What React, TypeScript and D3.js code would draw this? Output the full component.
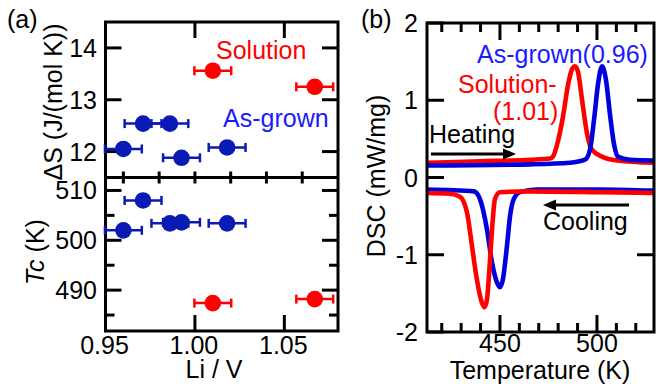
import React from 'react';
import * as d3 from 'd3';

// ---------- Panel (a) data ----------
const liAsGrown = [0.96, 0.971, 0.986, 0.9925, 1.018];
const dsAsGrown = [12.05, 12.54, 12.54, 11.88, 12.08];
const tcAsGrown = [502.0, 508.0, 503.4, 503.6, 503.4];
const liSolution = [1.01, 1.067];
const dsSolution = [13.56, 13.25];
const tcSolution = [487.4, 488.2];
const liError = 0.0103;

const liTicks = [0.95, 1.0, 1.05];
const liTickLabels = ['0.95', '1.00', '1.05'];
const dsTicks = [12, 13, 14];
const tcTicks = [490, 500, 510];
const tcMinor = [485, 495, 505];
const dividerTicks = [0.96, 0.98, 1.0, 1.02, 1.04, 1.06];

// ---------- Panel (b) data ----------
const heatRedT = [412.4, 439.7, 465.5, 475.8, 477.3, 479.9, 482.5, 485.1, 487.1, 488.7, 490.2, 492.3, 494.8, 497.4, 502.6, 510.3, 529.4];
const heatRedV = [0.19, 0.21, 0.23, 0.245, 0.27, 0.47, 0.79, 1.2, 1.4, 1.44, 1.37, 1.01, 0.58, 0.36, 0.27, 0.22, 0.19];
const heatBlueT = [412.4, 465.5, 486.1, 493.8, 496.4, 498.5, 500.5, 502.6, 504.6, 506.7, 508.8, 510.8, 517, 529.4];
const heatBlueV = [0.155, 0.17, 0.19, 0.23, 0.36, 0.75, 1.2, 1.44, 1.27, 0.82, 0.43, 0.27, 0.23, 0.22];
const coolRedT = [412.4, 424.2, 429.4, 433.0, 435.6, 438.1, 440.7, 442.0, 443.3, 444.8, 446.2, 447.4, 450, 465.5, 501.5, 529.4];
const coolRedV = [-0.2, -0.21, -0.25, -0.45, -0.89, -1.32, -1.62, -1.68, -1.58, -1.1, -0.58, -0.28, -0.19, -0.18, -0.19, -0.2];
const coolBlueT = [412.4, 436.6, 439.7, 443.3, 445.9, 448.5, 450, 451.5, 453.6, 455.2, 457.1, 460.3, 469.1, 501.5, 529.4];
const coolBlueV = [-0.155, -0.18, -0.28, -0.67, -1.1, -1.36, -1.42, -1.32, -0.89, -0.5, -0.28, -0.19, -0.155, -0.155, -0.17];

const tempTicks = [450, 500];
const tempMinor = [420, 430, 440, 460, 470, 480, 490, 510, 520];
const dscTicks = [-2, -1, 0, 1, 2];

const RED = '#ff0000';
const BLUE_DOT = '#0a1ab4';
const BLUE_LINE = '#0000dd';
const BLUE_TEXT = '#1a1aff';
const FONT = 'Liberation Sans, Arial, sans-serif';
const FS = 25;

// Panel (a) geometry
const aL = 105.5, aR = 338, aT = 22, aB = 331, aMid = 177.5;
// Panel (b) geometry
const bL = 427, bR = 654, bT = 23, bB = 332;

const xA = d3.scaleLinear().domain([0.95, 1.08]).range([aL, aR]);
const yS = d3.scaleLinear().domain([11.5, 14.5]).range([aMid, aT]);
const yT = d3.scaleLinear().domain([481.8, 512.6]).range([aB, aMid]);
const xB = d3.scaleLinear().domain([412.4, 529.4]).range([bL, bR]);
const yB = d3.scaleLinear().domain([-2, 2]).range([bB, bT]);

const K = '#000';
const SW = 3;
const TICK_BASE = 354;
const TITLE_BASE = 378;

function Points({ xs, ys, yScale, color }: { xs: number[]; ys: number[]; yScale: any; color: string }) {
  return (
    <g>
      {xs.map((x, i) => {
        const cx = xA(x);
        const cy = yScale(ys[i]);
        const x0 = xA(x - liError);
        const x1 = xA(x + liError);
        return (
          <g key={i}>
            <line x1={x0} x2={x1} y1={cy} y2={cy} stroke={color} strokeWidth={2.5} />
            <line x1={x0} x2={x0} y1={cy - 4.5} y2={cy + 4.5} stroke={color} strokeWidth={2.5} />
            <line x1={x1} x2={x1} y1={cy - 4.5} y2={cy + 4.5} stroke={color} strokeWidth={2.5} />
            <circle cx={cx} cy={cy} r={8.3} fill={color} />
          </g>
        );
      })}
    </g>
  );
}

function PanelA() {
  const major = 16, minor = 9, cross = 6;
  return (
    <g>
      <rect x={aL} y={aT} width={aR - aL} height={aB - aT} fill="none" stroke={K} strokeWidth={SW} />
      <line x1={aL} x2={aR} y1={aMid} y2={aMid} stroke={K} strokeWidth={SW} />
      {liTicks.slice(1).map((t) => (
        <line key={'t' + t} x1={xA(t)} x2={xA(t)} y1={aT} y2={aT + major} stroke={K} strokeWidth={SW} />
      ))}
      {liTicks.slice(1).map((t) => (
        <line key={'b' + t} x1={xA(t)} x2={xA(t)} y1={aB} y2={aB - major} stroke={K} strokeWidth={SW} />
      ))}
      {dividerTicks.map((t) => (
        <line key={'d' + t} x1={xA(t)} x2={xA(t)} y1={aMid - cross} y2={aMid + cross} stroke={K} strokeWidth={SW} />
      ))}
      {dsTicks.map((t) => (
        <g key={'s' + t}>
          <line x1={aL} x2={aL + major} y1={yS(t)} y2={yS(t)} stroke={K} strokeWidth={SW} />
          <line x1={aR} x2={aR - major} y1={yS(t)} y2={yS(t)} stroke={K} strokeWidth={SW} />
          <text x={97} y={yS(t) + 9} textAnchor="end" fontSize={FS} fontFamily={FONT}>{t}</text>
        </g>
      ))}
      {tcTicks.map((t) => (
        <g key={'c' + t}>
          <line x1={aL} x2={aL + major} y1={yT(t)} y2={yT(t)} stroke={K} strokeWidth={SW} />
          <line x1={aR} x2={aR - major} y1={yT(t)} y2={yT(t)} stroke={K} strokeWidth={SW} />
          <text x={97} y={yT(t) + 9} textAnchor="end" fontSize={FS} fontFamily={FONT}>{t}</text>
        </g>
      ))}
      {tcMinor.map((t) => (
        <g key={'cm' + t}>
          <line x1={aL} x2={aL + minor} y1={yT(t)} y2={yT(t)} stroke={K} strokeWidth={SW} />
          <line x1={aR} x2={aR - minor} y1={yT(t)} y2={yT(t)} stroke={K} strokeWidth={SW} />
        </g>
      ))}
      {liTicks.map((t, i) => (
        <text key={'xl' + t} x={xA(t) - 1} y={TICK_BASE} textAnchor="middle" fontSize={FS} fontFamily={FONT}>{liTickLabels[i]}</text>
      ))}
      <text x={214} y={TITLE_BASE} textAnchor="middle" fontSize={FS} fontFamily={FONT}>Li / V</text>
      <text transform="translate(62,102) rotate(-90)" textAnchor="middle" fontSize={FS} fontFamily={FONT}>ΔS (J/(mol K))</text>
      <text transform="translate(44,252) rotate(-90)" textAnchor="middle" fontSize={FS} fontFamily={FONT}>
        <tspan fontStyle="italic">Tc</tspan> (K)
      </text>
      <text x={7} y={28} fontSize={FS} fontFamily={FONT}>(a)</text>
      <text x={216} y={59} fontSize={FS} fontFamily={FONT} fill={RED}>Solution</text>
      <text x={223} y={127} fontSize={FS} fontFamily={FONT} fill={BLUE_TEXT}>As-grown</text>
      <Points xs={liAsGrown} ys={dsAsGrown} yScale={yS} color={BLUE_DOT} />
      <Points xs={liSolution} ys={dsSolution} yScale={yS} color={RED} />
      <Points xs={liAsGrown} ys={tcAsGrown} yScale={yT} color={BLUE_DOT} />
      <Points xs={liSolution} ys={tcSolution} yScale={yT} color={RED} />
    </g>
  );
}

function Curve({ ts, vs, color }: { ts: number[]; vs: number[]; color: string }) {
  const pts: [number, number][] = ts.map((t, i) => [t, vs[i]]);
  const gen = d3
    .line<[number, number]>()
    .x((d) => xB(d[0]))
    .y((d) => yB(d[1]))
    .curve(d3.curveMonotoneX);
  return <path d={gen(pts) || ''} fill="none" stroke={color} strokeWidth={4.6} strokeLinejoin="round" strokeLinecap="round" />;
}

function PanelB() {
  const major = 17, minor = 9;
  return (
    <g>
      <defs>
        <clipPath id="clipB">
          <rect x={bL} y={bT} width={bR - bL} height={bB - bT} />
        </clipPath>
      </defs>
      <g clipPath="url(#clipB)">
        <Curve ts={heatRedT} vs={heatRedV} color={RED} />
        <Curve ts={heatBlueT} vs={heatBlueV} color={BLUE_LINE} />
        <Curve ts={coolBlueT} vs={coolBlueV} color={BLUE_LINE} />
        <Curve ts={coolRedT} vs={coolRedV} color={RED} />
      </g>
      <rect x={bL} y={bT} width={bR - bL} height={bB - bT} fill="none" stroke={K} strokeWidth={SW} />
      {tempTicks.map((t) => (
        <g key={'tt' + t}>
          <line x1={xB(t)} x2={xB(t)} y1={bB} y2={bB - major} stroke={K} strokeWidth={SW} />
          <line x1={xB(t)} x2={xB(t)} y1={bT} y2={bT + major} stroke={K} strokeWidth={SW} />
          <text x={xB(t)} y={TICK_BASE - 2} textAnchor="middle" fontSize={FS} fontFamily={FONT}>{t}</text>
        </g>
      ))}
      {tempMinor.map((t) => (
        <g key={'tm' + t}>
          <line x1={xB(t)} x2={xB(t)} y1={bB} y2={bB - minor} stroke={K} strokeWidth={SW} />
          <line x1={xB(t)} x2={xB(t)} y1={bT} y2={bT + minor} stroke={K} strokeWidth={SW} />
        </g>
      ))}
      {dscTicks.map((t) => (
        <g key={'dt' + t}>
          <line x1={bL} x2={bL + major} y1={yB(t)} y2={yB(t)} stroke={K} strokeWidth={SW} />
          {t > -2 && t < 2 && <line x1={bR} x2={bR - major} y1={yB(t)} y2={yB(t)} stroke={K} strokeWidth={SW} />}
          <text x={418} y={yB(t) + 9} textAnchor="end" fontSize={FS} fontFamily={FONT}>{t}</text>
        </g>
      ))}
      <text x={540} y={TITLE_BASE + 1} textAnchor="middle" fontSize={FS} fontFamily={FONT}>Temperature (K)</text>
      <text transform="translate(385,176) rotate(-90)" textAnchor="middle" fontSize={FS} fontFamily={FONT}>DSC (mW/mg)</text>
      <text x={361} y={28} fontSize={FS} fontFamily={FONT}>(b)</text>
      <text x={477} y={63} fontSize={FS} fontFamily={FONT} fill={BLUE_TEXT}>As-grown(0.96)</text>
      <text x={458} y={93} fontSize={FS} fontFamily={FONT} fill={RED}>Solution-</text>
      <text x={493} y={120} fontSize={FS} fontFamily={FONT} fill={RED}>(1.01)</text>
      <text x={429} y={143} fontSize={FS} fontFamily={FONT}>Heating</text>
      <line x1={431} x2={506} y1={154} y2={154} stroke={K} strokeWidth={3} />
      <path d="M 516 154 L 503 148.5 L 503 159.5 Z" fill={K} />
      <text x={543} y={230} fontSize={FS} fontFamily={FONT}>Cooling</text>
      <line x1={553} x2={629} y1={205} y2={205} stroke={K} strokeWidth={3} />
      <path d="M 543 205 L 556 199.5 L 556 210.5 Z" fill={K} />
    </g>
  );
}

export default function App() {
  return (
    <svg width={656} height={390} viewBox="0 0 656 390" style={{ position: 'absolute', left: 0, top: 0, background: '#fff' }}>
      <rect x={0} y={0} width={656} height={390} fill="#fff" />
      <PanelA />
      <PanelB />
    </svg>
  );
}
